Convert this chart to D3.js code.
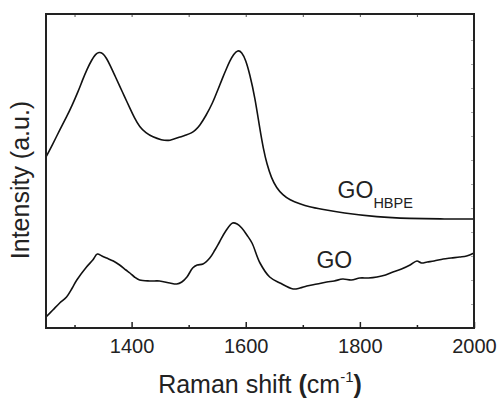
<!DOCTYPE html>
<html lang="en">
<head>
  <meta charset="UTF-8">
  <title>Raman spectra GO / GO-HBPE</title>
  <script src="https://d3js.org/d3.v7.min.js"></script>
  <style>
    body { margin: 0; background: #fff; }
    text { font-family: "Liberation Sans", Arial, sans-serif; fill: #222; }
    .curve { fill: none; stroke: #111; stroke-width: 1.6; }
  </style>
</head>
<body>
  <div id="chart"></div>

  <script>
    // spectra (intensity in arbitrary units)
    const shiftHbpe = [1250, 1262, 1274, 1286, 1296, 1306, 1314, 1322, 1330, 1337, 1343, 1349, 1356, 1363, 1371,
      1379, 1388, 1396, 1405, 1414, 1425, 1437, 1452, 1467, 1484, 1496, 1505, 1512, 1519, 1530,
      1542, 1551, 1560, 1566, 1572, 1579, 1586, 1593, 1600, 1607, 1616, 1625, 1631, 1637, 1645, 1654,
      1665, 1677, 1695, 1712, 1730, 1770, 1830, 1888, 1940, 2000];
    const intHbpe = [171, 184, 198, 211, 223, 236, 248, 259, 268, 274, 276, 275, 270, 262, 252,
      242, 231, 221, 210, 201, 195, 191, 188, 187, 191, 193, 195, 198, 202, 212,
      225, 238, 251, 259, 267, 274, 278, 276, 268, 254, 231, 198, 179, 164, 150, 140,
      133, 128, 124, 121, 119, 115, 111, 109.5, 109, 109];

    const shiftGo = [1250, 1262, 1274, 1286, 1296, 1304, 1321, 1332, 1340, 1348, 1356, 1368, 1379, 1390, 1397,
      1405, 1414, 1432, 1449, 1467, 1479, 1488, 1497, 1507, 1515, 1525, 1537, 1546, 1554, 1565, 1577, 1585,
      1593, 1602, 1611, 1625, 1642, 1660, 1683, 1695, 1707, 1725, 1742, 1755, 1770, 1785, 1800, 1815, 1830,
      1845, 1858, 1873, 1888, 1900, 1908, 1918, 1930, 1946, 1960, 1975, 1987, 2000];
    const intGo = [11, 18, 25, 31, 40, 48, 61, 68, 74, 72, 70, 67, 63, 58, 55,
      51, 48, 47, 47, 45, 44, 46, 51, 60, 63, 64, 70, 78, 86, 97, 105, 104,
      100, 93, 85, 65, 51, 45, 39, 40, 42, 44, 46, 47, 49, 48, 50, 50, 51,
      53, 56, 59, 63, 67, 65, 66, 67, 69, 70, 71, 72, 75];

    const majorTicks = [1400, 1600, 1800, 2000];
    const minorTicks = [1300, 1500, 1700, 1900];
    const rightTicks = [24, 48, 72, 96, 120, 144, 168, 192, 216, 240, 264, 288];

    const width = 500;
    const height = 399;
    const margin = { top: 14, right: 26, bottom: 71, left: 46 };
    const innerW = width - margin.left - margin.right;
    const innerH = height - margin.top - margin.bottom;

    const svg = d3.select("#chart")
      .append("svg")
      .attr("width", width)
      .attr("height", height);

    const g = svg.append("g")
      .attr("transform", `translate(${margin.left},${margin.top})`);

    const x = d3.scaleLinear().domain([1250, 2000]).range([0, innerW]);
    const y = d3.scaleLinear().domain([0, 314]).range([innerH, 0]);

    const smoothLine = d3.line()
      .x(d => x(d[0]))
      .y(d => y(d[1]))
      .curve(d3.curveBasis);

    const roughLine = d3.line()
      .x(d => x(d[0]))
      .y(d => y(d[1]))
      .curve(d3.curveCatmullRom.alpha(0.5));

    g.append("path")
      .attr("class", "curve")
      .datum(d3.zip(shiftHbpe, intHbpe))
      .attr("d", smoothLine);

    g.append("path")
      .attr("class", "curve")
      .datum(d3.zip(shiftGo, intGo))
      .attr("d", roughLine);

    // bottom axis, ticks pointing inward
    const bottom = g.append("g")
      .attr("transform", `translate(0,${innerH})`)
      .call(d3.axisBottom(x).tickValues(majorTicks).tickSize(-6).tickPadding(11).tickFormat(d3.format("d")));
    bottom.select(".domain").remove();
    bottom.selectAll("line").attr("stroke", "#222").attr("stroke-width", 1.5);
    bottom.selectAll("text").attr("font-size", 20).attr("font-family", "Liberation Sans, Arial, sans-serif").attr("fill", "#222");

    g.append("g")
      .attr("transform", `translate(0,${innerH})`)
      .call(d3.axisBottom(x).tickValues(minorTicks).tickSize(-3).tickFormat(""))
      .call(a => a.select(".domain").remove())
      .selectAll("line").attr("stroke", "#222").attr("stroke-width", 1.5);

    // top mirror ticks
    g.append("g")
      .call(d3.axisTop(x).tickValues(majorTicks.concat(minorTicks)).tickSize(-3).tickFormat(""))
      .call(a => a.select(".domain").remove())
      .selectAll("line").attr("stroke", "#555").attr("stroke-width", 1);

    // faint right ticks
    g.append("g")
      .attr("transform", `translate(${innerW},0)`)
      .call(d3.axisRight(y).tickValues(rightTicks).tickSize(-3).tickFormat(""))
      .call(a => a.select(".domain").remove())
      .selectAll("line").attr("stroke", "#aaa").attr("stroke-width", 1);

    // frame
    g.append("rect")
      .attr("width", innerW)
      .attr("height", innerH)
      .attr("fill", "none")
      .attr("stroke", "#222")
      .attr("stroke-width", 2);

    // axis titles
    const xt = svg.append("text")
      .attr("x", margin.left + innerW / 2)
      .attr("y", 393)
      .attr("text-anchor", "middle")
      .attr("font-size", 25);
    xt.append("tspan").text("Raman shift ");
    xt.append("tspan").attr("font-weight", "bold").text("(");
    xt.append("tspan").text("cm");
    xt.append("tspan").attr("font-size", 15).attr("dy", -11).text("-1");
    xt.append("tspan").attr("font-weight", "bold").attr("dy", 11).text(")");

    svg.append("text")
      .attr("transform", "translate(29,180) rotate(-90)")
      .attr("text-anchor", "middle")
      .attr("font-size", 25)
      .text("Intensity (a.u.)");

    // curve labels
    const lab1 = g.append("text")
      .attr("x", x(1761))
      .attr("y", y(130))
      .attr("font-size", 23);
    lab1.append("tspan").text("GO");
    lab1.append("tspan").attr("font-size", 14.5).attr("dy", 10).text("HBPE");

    g.append("text")
      .attr("x", x(1724))
      .attr("y", y(60))
      .attr("font-size", 23)
      .text("GO");
  </script>
</body>
</html>
